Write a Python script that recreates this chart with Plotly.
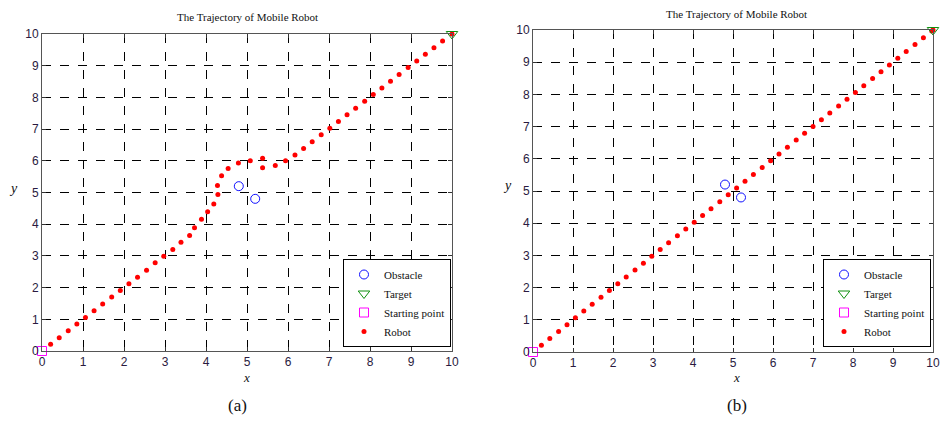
import plotly.graph_objects as go

# ---------------- data ----------------
obstacle_x = [4.8, 5.2]
obstacle_y = [5.2, 4.8]
target_x = [10]
target_y = [10]
start_x = [0]
start_y = [0]

robot_a_x = [0.21, 0.42, 0.64, 0.85, 1.06, 1.27, 1.48, 1.70, 1.91, 2.12, 2.33, 2.55, 2.76, 2.97,
             3.19, 3.39, 3.60, 3.72, 3.89, 4.04, 4.19, 4.29, 4.28, 4.38, 4.54, 4.79, 5.08, 5.38,
             5.38, 5.69, 5.94, 6.17, 6.38, 6.59, 6.81, 7.02, 7.23, 7.44, 7.65, 7.87, 8.08, 8.29,
             8.50, 8.71, 8.93, 9.14, 9.35, 9.56, 9.77, 10.0]
robot_a_y = [0.21, 0.42, 0.64, 0.85, 1.06, 1.27, 1.48, 1.70, 1.91, 2.12, 2.33, 2.55, 2.78, 2.99,
             3.20, 3.43, 3.64, 3.89, 4.16, 4.39, 4.64, 4.94, 5.22, 5.53, 5.76, 5.93, 6.00, 6.08,
             5.78, 5.85, 6.00, 6.18, 6.39, 6.60, 6.82, 7.03, 7.24, 7.45, 7.66, 7.88, 8.09, 8.30,
             8.51, 8.72, 8.94, 9.15, 9.36, 9.57, 9.78, 10.0]

robot_b_x = [0.21, 0.42, 0.64, 0.85, 1.06, 1.27, 1.48, 1.70, 1.91, 2.12, 2.33, 2.55, 2.76, 2.97,
             3.18, 3.39, 3.61, 3.82, 4.03, 4.24, 4.45, 4.67, 4.88, 5.09, 5.30, 5.51, 5.73, 5.94,
             6.15, 6.36, 6.58, 6.79, 7.00, 7.21, 7.42, 7.64, 7.85, 8.06, 8.27, 8.49, 8.70, 8.91,
             9.12, 9.33, 9.55, 9.76, 9.97, 10.0]
robot_b_y = list(robot_b_x)

ticks = [0, 1, 2, 3, 4, 5, 6, 7, 8, 9, 10]
title_text = "The Trajectory of Mobile Robot"
panel_labels = ["(a)", "(b)"]

SERIF = "Liberation Serif"
SANS = "Liberation Sans"

fig = go.Figure()

def add_panel(rx, ry, xa, ya, leg):
    fig.add_trace(go.Scatter(x=obstacle_x, y=obstacle_y, mode="markers", name="Obstacle",
                             xaxis=xa, yaxis=ya, legend=leg, cliponaxis=False,
                             marker=dict(symbol="circle-open", size=9, color="#1010ff", line=dict(width=1))))
    fig.add_trace(go.Scatter(x=rx, y=ry, mode="markers", name="Robot", showlegend=False,
                             xaxis=xa, yaxis=ya, legend=leg, cliponaxis=False,
                             marker=dict(symbol="circle", size=5, color="#ff0000")))
    fig.add_trace(go.Scatter(x=target_x, y=target_y, mode="markers", name="Target",
                             xaxis=xa, yaxis=ya, legend=leg, cliponaxis=False,
                             marker=dict(symbol="triangle-down-open", size=10, color="#109010", line=dict(width=1))))
    fig.add_trace(go.Scatter(x=start_x, y=start_y, mode="markers", name="Starting point",
                             xaxis=xa, yaxis=ya, legend=leg, cliponaxis=False,
                             marker=dict(symbol="square-open", size=9, color="#ff00ff", line=dict(width=1))))
    # legend entry for Robot (kept last in legend)
    fig.add_trace(go.Scatter(x=[None], y=[None], mode="markers", name="Robot",
                             xaxis=xa, yaxis=ya, legend=leg,
                             marker=dict(symbol="circle", size=5, color="#ff0000")))

add_panel(robot_a_x, robot_a_y, "x", "y", "legend")
add_panel(robot_b_x, robot_b_y, "x2", "y2", "legend2")

axis_common = dict(range=[0, 10], tickvals=ticks, ticks="inside", ticklen=4, tickcolor="#333",
                   showline=True, linecolor="#555", linewidth=1, mirror="allticks",
                   showgrid=True, gridcolor="#000", griddash="dash", gridwidth=1,
                   zeroline=False, automargin=False, fixedrange=True,
                   tickfont=dict(family=SANS, size=12, color="#2a1a40"))

# page has an 8px body margin: the figure must fit inside it
OFF = 8
W, H = 948 - 2 * OFF, 423 - 2 * OFF
def px_x(p): return (p - OFF) / W
def px_y(p): return (H - (p - OFF)) / H

fig.update_layout(
    width=W, height=H, margin=dict(l=0, r=0, t=0, b=0),
    paper_bgcolor="white", plot_bgcolor="white",
    xaxis=dict(axis_common, domain=[px_x(42), px_x(452)], anchor="y"),
    yaxis=dict(axis_common, domain=[px_y(351), px_y(34)], anchor="x"),
    xaxis2=dict(axis_common, domain=[px_x(533), px_x(933)], anchor="y2"),
    yaxis2=dict(axis_common, domain=[px_y(352), px_y(30)], anchor="x2"),
    legend=dict(x=px_x(451), y=px_y(347), xanchor="right", yanchor="bottom",
                bgcolor="white", bordercolor="#000", borderwidth=1,
                font=dict(family=SERIF, size=11, color="#111"), tracegroupgap=0,
                itemwidth=30),
    legend2=dict(x=px_x(931), y=px_y(347), xanchor="right", yanchor="bottom",
                 bgcolor="white", bordercolor="#000", borderwidth=1,
                 font=dict(family=SERIF, size=11, color="#111"), tracegroupgap=0,
                 itemwidth=30),
    showlegend=True,
)

annos = [
    dict(x=px_x(247), y=px_y(17), text=title_text, font=dict(family=SERIF, size=11, color="#111")),
    dict(x=px_x(736), y=px_y(14), text=title_text, font=dict(family=SERIF, size=11, color="#111")),
    dict(x=px_x(246), y=px_y(377), text="<i>x</i>", font=dict(family=SERIF, size=13, color="#111")),
    dict(x=px_x(736), y=px_y(377), text="<i>x</i>", font=dict(family=SERIF, size=13, color="#111")),
    dict(x=px_x(13), y=px_y(188), text="<i>y</i>", font=dict(family=SERIF, size=14, color="#111")),
    dict(x=px_x(508), y=px_y(186), text="<i>y</i>", font=dict(family=SERIF, size=14, color="#111")),
    dict(x=px_x(237), y=px_y(405), text=panel_labels[0], font=dict(family=SERIF, size=17, color="#111")),
    dict(x=px_x(737), y=px_y(405), text=panel_labels[1], font=dict(family=SERIF, size=17, color="#111")),
]
for a in annos:
    fig.add_annotation(xref="paper", yref="paper", showarrow=False, xanchor="center", yanchor="middle", **a)

fig.write_html("out.html")
